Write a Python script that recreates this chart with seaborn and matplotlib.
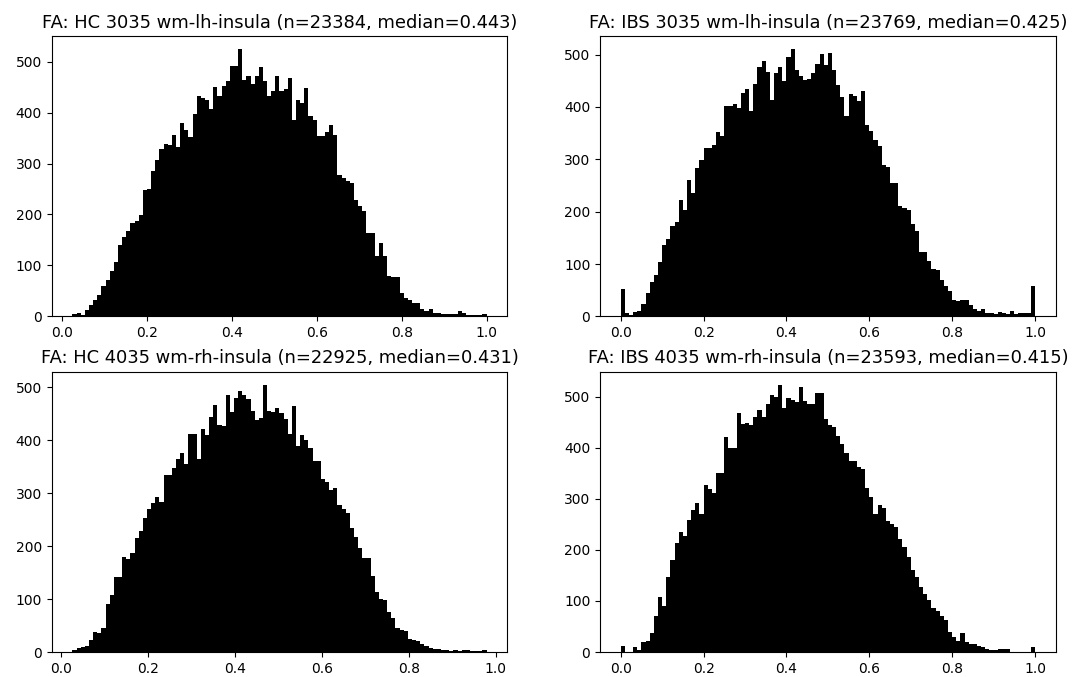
import numpy as np
import pandas as pd
import matplotlib
matplotlib.use("Agg")
import matplotlib.pyplot as plt
import seaborn as sns

# ---- titles ----
titles = [
    "FA: HC 3035 wm-lh-insula (n=23384, median=0.443)",
    "FA: IBS 3035 wm-lh-insula (n=23769, median=0.425)",
    "FA: HC 4035 wm-rh-insula (n=22925, median=0.431)",
    "FA: IBS 4035 wm-rh-insula (n=23593, median=0.415)",
]

# ---- data range (min, max of FA values) per panel; 100 equal bins ----
hc_lh_range = (0.025, 1.0)
ibs_lh_range = (0.0, 1.0)
hc_rh_range = (0.027, 0.979)
ibs_rh_range = (0.0, 1.0)

# ---- bin counts ----
hc_lh_counts = [
    4, 7, 3, 12, 23, 33, 42, 59, 72, 90,
    107, 141, 156, 168, 184, 188, 198, 249, 250, 286,
    307, 329, 339, 337, 356, 333, 380, 365, 352, 397,
    433, 429, 425, 407, 450, 433, 453, 461, 492, 492,
    524, 463, 471, 456, 471, 489, 461, 432, 442, 471,
    442, 446, 468, 385, 424, 419, 448, 393, 385, 354,
    354, 361, 376, 356, 278, 271, 265, 262, 229, 216,
    207, 163, 163, 118, 144, 118, 79, 78, 78, 45,
    37, 33, 27, 27, 14, 10, 15, 6, 6, 5,
    5, 4, 5, 10, 6, 3, 3, 3, 3, 4,
]

ibs_lh_counts = [
    53, 6, 3, 8, 11, 23, 44, 66, 80, 104,
    137, 147, 172, 181, 223, 204, 260, 235, 284, 298,
    322, 322, 327, 353, 344, 401, 401, 406, 398, 427,
    435, 393, 443, 476, 487, 466, 413, 465, 476, 449,
    496, 510, 470, 459, 451, 454, 464, 482, 501, 481,
    504, 470, 441, 419, 382, 424, 420, 411, 430, 365,
    354, 337, 326, 290, 286, 255, 255, 211, 207, 204,
    176, 163, 123, 123, 106, 90, 88, 70, 59, 48,
    32, 30, 32, 32, 22, 14, 10, 15, 7, 6,
    4, 8, 6, 4, 10, 4, 6, 6, 6, 58,
]

hc_rh_counts = [
    3, 7, 9, 12, 23, 38, 35, 46, 90, 108,
    141, 141, 180, 176, 186, 215, 229, 253, 269, 282,
    293, 283, 335, 335, 347, 364, 376, 355, 412, 412,
    364, 421, 409, 443, 466, 429, 427, 486, 453, 480,
    492, 486, 477, 455, 437, 442, 504, 455, 453, 461,
    451, 439, 411, 464, 388, 409, 401, 386, 360, 360,
    327, 321, 305, 310, 278, 270, 262, 234, 218, 197,
    177, 177, 144, 114, 101, 98, 76, 64, 45, 42,
    40, 25, 22, 20, 15, 12, 7, 5, 6, 4,
    3, 2, 4, 2, 4, 4, 1, 1, 1, 3,
]

ibs_rh_counts = [
    12, 0, 0, 10, 4, 20, 22, 37, 70, 108,
    91, 147, 181, 214, 235, 227, 259, 279, 291, 270,
    327, 319, 311, 351, 351, 422, 400, 400, 468, 447,
    449, 445, 460, 474, 461, 486, 503, 500, 523, 477,
    498, 493, 489, 520, 491, 485, 486, 507, 507, 457,
    444, 441, 424, 408, 390, 375, 375, 362, 359, 321,
    303, 270, 287, 283, 257, 250, 245, 221, 205, 186,
    160, 147, 127, 114, 101, 87, 80, 70, 63, 40,
    30, 22, 38, 20, 15, 15, 12, 9, 6, 4,
    4, 5, 6, 5, 1, 0, 0, 0, 0, 10,
]

x_ticks = [0.0, 0.2, 0.4, 0.6, 0.8, 1.0]
y_ticks = [0, 100, 200, 300, 400, 500]

panels = [
    (titles[0], hc_lh_counts, hc_lh_range),
    (titles[1], ibs_lh_counts, ibs_lh_range),
    (titles[2], hc_rh_counts, hc_rh_range),
    (titles[3], ibs_rh_counts, ibs_rh_range),
]

fig, axes = plt.subplots(2, 2, figsize=(10.72, 6.77), dpi=100)
fig.subplots_adjust(left=0.0482, right=0.9848, top=0.9468, bottom=0.0369,
                    wspace=0.2035, hspace=0.197)

for ax, (title, counts, (lo, hi)) in zip(axes.flat, panels):
    counts = np.asarray(counts, dtype=float)
    nbins = len(counts)
    edges = np.linspace(lo, hi, nbins + 1)
    centers = (edges[:-1] + edges[1:]) / 2
    df = pd.DataFrame({"fa": centers, "count": counts})
    sns.histplot(data=df, x="fa", weights="count", bins=nbins, binrange=(lo, hi),
                 element="step", fill=True, color="black", alpha=1.0,
                 linewidth=0, ax=ax)
    ax.set_xlabel("")
    ax.set_ylabel("")
    span = hi - lo
    ax.set_xlim(lo - 0.05 * span, hi + 0.05 * span)
    ax.set_ylim(0, counts.max() * 1.05)
    ax.set_xticks(x_ticks)
    ax.set_yticks(y_ticks)
    ax.set_title(title, fontsize=12.9, pad=6)
    ax.tick_params(labelsize=10)

fig.savefig("out.png", dpi=100)
